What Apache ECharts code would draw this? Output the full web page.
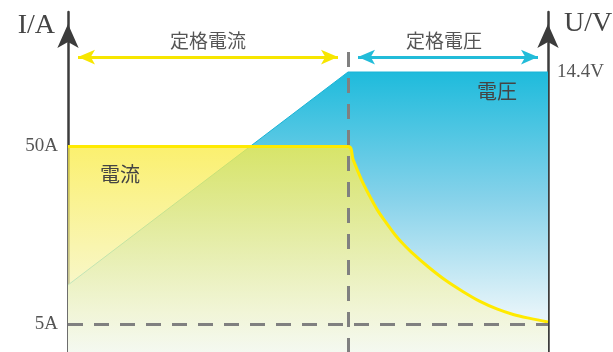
<!DOCTYPE html>
<html>
<head>
<meta charset="utf-8">
<script src="https://cdn.jsdelivr.net/npm/echarts@6/dist/echarts.min.js"></script>
<style>
  html, body { margin: 0; padding: 0; background: #fff; }
  #chart { width: 613px; height: 352px; }
</style>
</head>
<body>
<div id="chart"></div>
<script>
// 充电曲线数据（横轴为时间，单位任意）
const currentTime = [0, 7, 7.13, 7.34, 7.55, 7.76, 7.97, 8.18, 8.38, 8.59, 9.01, 9.43, 9.84, 10.3, 10.72, 11.13, 11.55, 12];
const currentA = [50, 50, 46.6, 41.5, 37.3, 33.5, 30.5, 27.6, 25.3, 23.2, 19.5, 16.2, 13.5, 10.8, 8.9, 7.5, 6.5, 5.6];
const voltageTime = [0, 7, 12];
const voltageV = [3.75, 14.4, 14.4];

// 坐标轴刻度
const currentTicks = [5, 50];
const voltageTicks = [14.4];
const switchTime = 7;   // 定格電流 -> 定格電圧
const endTime = 12;
const limitA = 5;

const labelFont = 'Liberation Serif';
const cjkFont = 'Noto Sans CJK JP';

const chart = echarts.init(document.getElementById('chart'));

// 顶部双向箭头所在高度（电流轴单位）
const arrowA = 72.6;
const arrowSize = [11, 17];

chart.setOption({
  animation: false,
  backgroundColor: '#fff',
  grid: { left: 68, right: 65, top: 12, bottom: 0 },
  xAxis: { type: 'value', min: 0, max: endTime, show: false },
  yAxis: [
    {
      type: 'value', min: -2, max: 84, position: 'left',
      splitLine: { show: false },
      axisTick: { show: false },
      axisLine: {
        show: true,
        lineStyle: { color: '#3c3c3c', width: 2.5 },
        symbol: ['none', 'arrow'],
        symbolSize: [16, 24],
        symbolOffset: [0, -12]
      },
      axisLabel: {
        customValues: currentTicks,
        formatter: '{value}A',
        color: '#555', fontSize: 19, fontFamily: labelFont, margin: 10
      }
    },
    {
      type: 'value', min: 0.4, max: 17.4, position: 'right',
      splitLine: { show: false },
      axisTick: { show: false },
      axisLine: {
        show: true,
        lineStyle: { color: '#3c3c3c', width: 2.5 },
        symbol: ['none', 'arrow'],
        symbolSize: [16, 24],
        symbolOffset: [0, -12]
      },
      axisLabel: {
        customValues: voltageTicks,
        formatter: '{value}V',
        color: '#555', fontSize: 19, fontFamily: labelFont, margin: 9
      }
    }
  ],
  graphic: [
    { type: 'text', x: 55, y: 26, style: { text: 'I/A', fill: '#444', font: '28px ' + labelFont, align: 'right', verticalAlign: 'middle' } },
    { type: 'text', x: 564, y: 24, style: { text: 'U/V', fill: '#444', font: '28px ' + labelFont, align: 'left', verticalAlign: 'middle' } },
    { type: 'text', x: 208, y: 41, style: { text: '定格電流', fill: '#555', font: '19px ' + cjkFont, align: 'center', verticalAlign: 'middle' } },
    { type: 'text', x: 444, y: 41, style: { text: '定格電圧', fill: '#555', font: '19px ' + cjkFont, align: 'center', verticalAlign: 'middle' } },
    { type: 'text', x: 120, y: 174, z: 10, style: { text: '電流', fill: '#444', font: '20px ' + cjkFont, align: 'center', verticalAlign: 'middle' } },
    { type: 'text', x: 497, y: 91, z: 10, style: { text: '電圧', fill: '#444', font: '20px ' + cjkFont, align: 'center', verticalAlign: 'middle' } }
  ],
  series: [
    {
      name: '電圧',
      type: 'line',
      yAxisIndex: 1,
      data: voltageTime.map((t, i) => [t, voltageV[i]]),
      symbol: 'none',
      lineStyle: { color: '#1ab4d6', width: 1 },
      areaStyle: {
        origin: 'start',
        opacity: 1,
        color: new echarts.graphic.LinearGradient(0, 0, 0, 1, [
          { offset: 0, color: '#1ebbdc' },
          { offset: 0.45, color: '#86d2ea' },
          { offset: 0.85, color: '#e3f3f9' },
          { offset: 1, color: '#f5fafc' }
        ])
      },
      z: 1
    },
    {
      name: '電流',
      type: 'line',
      yAxisIndex: 0,
      data: currentTime.map((t, i) => [t, currentA[i]]),
      symbol: 'none',
      smooth: 0.35,
      lineStyle: { color: '#ffea00', width: 3 },
      areaStyle: {
        origin: 'start',
        opacity: 1,
        color: new echarts.graphic.LinearGradient(0, 0, 0, 1, [
          { offset: 0, color: 'rgba(250,236,70,0.78)' },
          { offset: 1, color: 'rgba(244,248,236,0.75)' }
        ])
      },
      z: 2,
      markLine: {
        silent: true,
        animation: false,
        symbol: ['none', 'none'],
        label: { show: false },
        data: [
          // 5A 虚线
          [
            { coord: [0, limitA], lineStyle: { color: '#808080', width: 3, type: [15, 11] } },
            { coord: [endTime, limitA] }
          ],
          // 切换点竖虚线
          [
            { coord: [switchTime, 73.9], lineStyle: { color: '#808080', width: 3, type: [15, 11] } },
            { coord: [switchTime, -2] }
          ],
          // 定格電流 双向箭头
          [
            { coord: [0.25, arrowA], symbol: 'arrow', symbolSize: arrowSize, lineStyle: { color: '#f7e600', width: 3, type: 'solid' } },
            { coord: [switchTime - 0.25, arrowA], symbol: 'arrow', symbolSize: arrowSize }
          ],
          // 定格電圧 双向箭头
          [
            { coord: [switchTime + 0.25, arrowA], symbol: 'arrow', symbolSize: arrowSize, lineStyle: { color: '#22bcd9', width: 3, type: 'solid' } },
            { coord: [endTime - 0.25, arrowA], symbol: 'arrow', symbolSize: arrowSize }
          ]
        ]
      }
    }
  ]
});
</script>
</body>
</html>
